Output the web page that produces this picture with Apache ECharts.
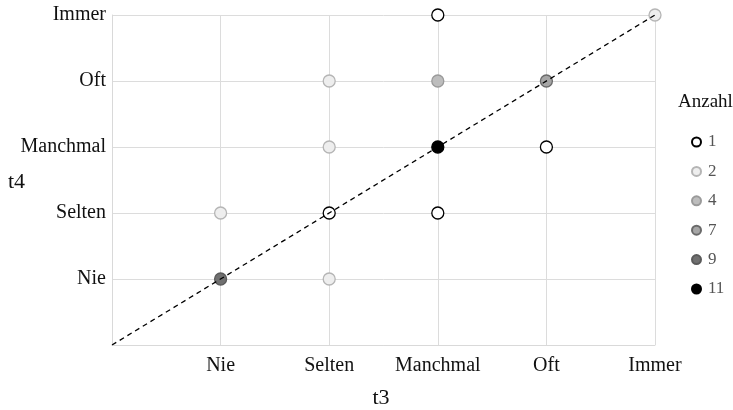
<!DOCTYPE html>
<html>
<head>
<meta charset="utf-8">
<script src="https://cdn.jsdelivr.net/npm/echarts@6/dist/echarts.min.js"></script>
<style>
  html, body { margin: 0; padding: 0; background: #fff; }
  #chart { width: 733px; height: 410px; }
</style>
</head>
<body>
<div id="chart"></div>
<script>
// Antwortstufen (1..5)
const levels = ['Nie', 'Selten', 'Manchmal', 'Oft', 'Immer']

// each point: t3, t4 (level index 1..5), anzahl
const t3 = [3, 5, 2, 3, 4, 2, 3, 4, 1, 2, 3, 1, 2]
const t4 = [5, 5, 4, 4, 4, 3, 3, 3, 2, 2, 2, 1, 1]
const anzahl = [1, 2, 2, 4, 7, 2, 11, 1, 2, 1, 1, 9, 2]

// legend groups
const groups = [1, 2, 4, 7, 9, 11]
const fills = ['#ffffff', '#eeeeee', '#bdbdbd', '#a6a6a6', '#707070', '#000000']
const borders = ['#000000', '#b5b5b5', '#9a9a9a', '#6a6a6a', '#5a5a5a', '#000000']

const chart = echarts.init(document.getElementById('chart'))

const series = groups.map((g, i) => ({
  name: String(g),
  type: 'scatter',
  symbol: 'circle',
  symbolSize: 12,
  z: 3,
  itemStyle: { color: fills[i], borderColor: borders[i], borderWidth: 1.3, opacity: 1 },
  data: anzahl.map((a, k) => (a === g ? [t3[k], t4[k]] : null)).filter(d => d)
}))

series.push({
  name: 'diag',
  type: 'line',
  symbol: 'none',
  silent: true,
  z: 4,
  lineStyle: { color: '#000', width: 1.3, type: [5, 4] },
  data: [[0, 0], [levels.length, levels.length]]
})

const axisCommon = {
  type: 'value',
  min: 0,
  max: 5,
  interval: 1,
  axisLine: { show: true, lineStyle: { color: '#d9d9d9' } },
  axisTick: { show: false },
  splitLine: { show: true, lineStyle: { color: '#dcdcdc' } },
  axisLabel: {
    color: '#111',
    fontFamily: 'Liberation Serif',
    fontSize: 20,
    formatter: v => (v >= 1 && v <= 5 ? levels[v - 1] : '')
  }
}

const serif = '"Liberation Serif"'

chart.setOption({
  backgroundColor: '#fff',
  animation: false,
  grid: { left: 112, right: 78, top: 15, bottom: 65, outerBoundsMode: 'none' },
  xAxis: Object.assign({}, axisCommon, {
    axisLabel: Object.assign({}, axisCommon.axisLabel, { margin: 11 })
  }),
  yAxis: Object.assign({}, axisCommon, {
    axisLabel: Object.assign({}, axisCommon.axisLabel, { margin: 6 })
  }),
  legend: {
    orient: 'vertical',
    left: 691,
    top: 132,
    padding: 0,
    itemWidth: 9,
    itemHeight: 9,
    itemGap: 9.4,
    data: groups.map(String),
    textStyle: { color: '#555', fontFamily: 'Liberation Serif', fontSize: 17, lineHeight: 20, padding: [0, 0, 0, 2] }
  },
  graphic: [
    {
      type: 'text',
      left: 678,
      top: 93,
      style: { text: 'Anzahl', fill: '#111', font: '19px ' + serif }
    },
    {
      type: 'text',
      x: 16.5,
      y: 182,
      style: { text: 't4', fill: '#111', font: '22px ' + serif, align: 'center', verticalAlign: 'middle' }
    },
    {
      type: 'text',
      x: 381,
      y: 398,
      style: { text: 't3', fill: '#111', font: '22px ' + serif, align: 'center', verticalAlign: 'middle' }
    }
  ],
  series: series
})
</script>
</body>
</html>
